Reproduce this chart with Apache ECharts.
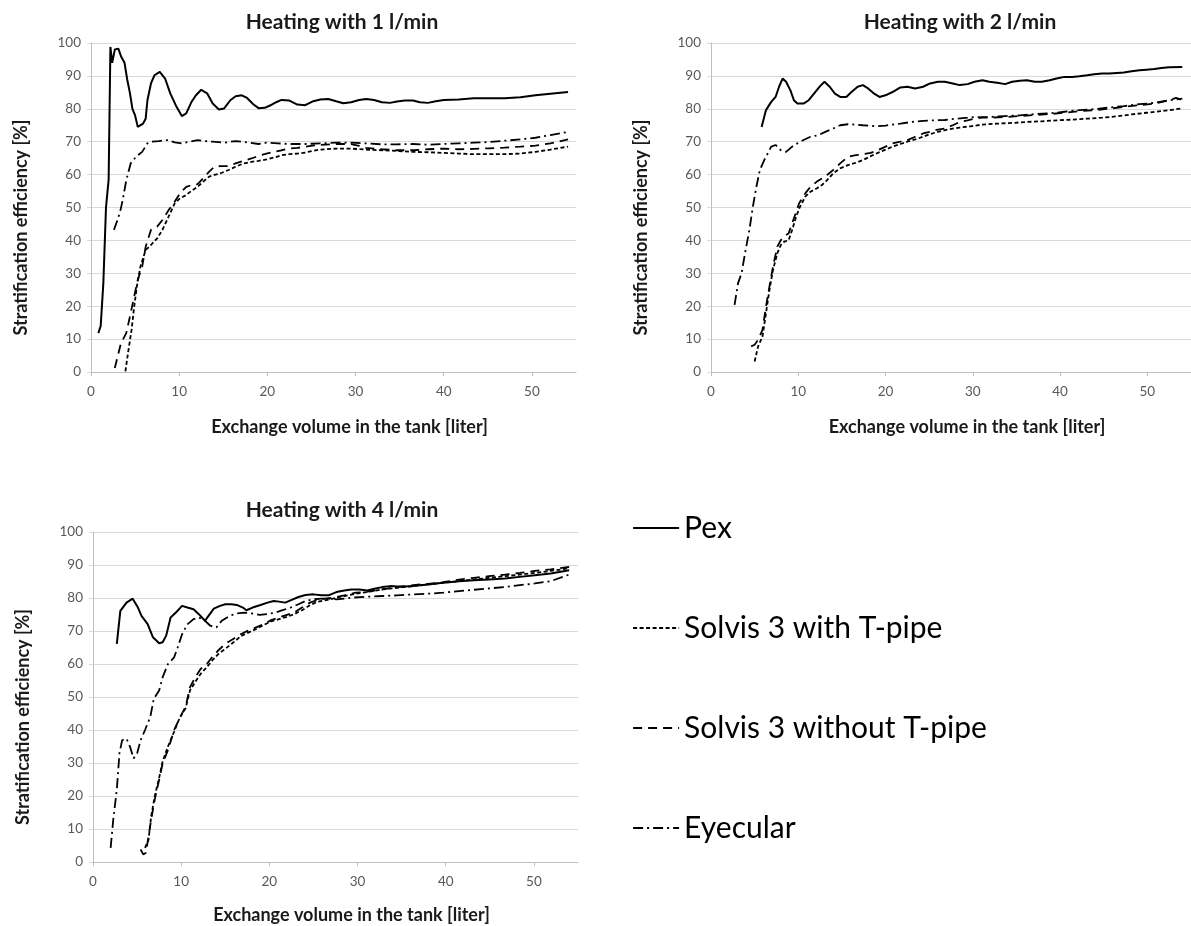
<!DOCTYPE html>
<html>
<head>
<meta charset="utf-8">
<script src="https://cdn.jsdelivr.net/npm/echarts@6/dist/echarts.min.js"></script>
<style>
html,body{margin:0;padding:0;background:#fff;}
#c{width:1191px;height:926px;}
</style>
</head>
<body>
<div id="c"></div>
<script>
// ---------- DATA ----------
const panelTitles = ['Heating with 1 l/min', 'Heating with 2 l/min', 'Heating with 4 l/min'];
const seriesNames = ['Pex', 'Solvis 3 with T-pipe', 'Solvis 3 without T-pipe', 'Eyecular'];
const xTicks = [0, 10, 20, 30, 40, 50];
const yTicks = [0, 10, 20, 30, 40, 50, 60, 70, 80, 90, 100];
const xAxisTitle = 'Exchange volume in the tank [liter]';
const yAxisTitle = 'Stratification efficiency [%]';

// Panel 1: 1 l/min
const pex1 = [[0.83,11.8],[1.1,14],[1.4,27],[1.7,50],[2.0,58.5],[2.2,98.8],[2.4,94],[2.7,98],[3.1,98.3],[3.4,96],[3.8,94],[4.1,89],[4.4,85],[4.7,80],[5.0,78],[5.3,74.5],[5.9,75.5],[6.2,77],[6.4,82.6],[6.8,87.7],[7.2,90.2],[7.8,91.2],[8.4,89.2],[9.0,84.6],[9.7,80.6],[10.3,77.8],[10.8,78.6],[11.4,82.1],[11.9,84.1],[12.5,85.8],[13.2,84.6],[13.8,81.6],[14.5,79.8],[15.1,80.1],[15.8,82.6],[16.4,83.8],[17.1,84.1],[17.7,83.3],[18.4,81.4],[19.0,80.2],[19.7,80.3],[20.3,81],[21.0,82],[21.6,82.7],[22.5,82.5],[23.4,81.3],[24.3,81.1],[25.1,82.2],[26.0,82.8],[26.9,83],[27.8,82.3],[28.6,81.7],[29.5,82],[30.4,82.7],[31.2,83],[32.1,82.7],[33.0,82],[33.9,81.8],[34.7,82.2],[35.6,82.5],[36.5,82.5],[37.3,82],[38.2,81.8],[39.1,82.3],[40,82.7],[41.7,82.8],[43.4,83.2],[45.2,83.2],[46.9,83.2],[48.7,83.5],[50.4,84.1],[52.1,84.6],[54.1,85.1]];
const tee1 = [[3.9,0.2],[4.2,5.8],[4.6,12.8],[4.9,19.9],[5.2,26],[5.6,32],[6.2,37.1],[6.8,38.6],[7.5,40.6],[8.1,43.2],[8.8,47.2],[9.5,51.3],[10.1,52.8],[10.8,53.8],[11.4,55.1],[12.1,56.3],[12.7,57.8],[13.4,59.4],[14.0,59.9],[14.7,60.4],[15.6,61.4],[16.4,62.4],[17.3,63.4],[18.2,63.9],[19.0,64.2],[19.9,64.6],[20.8,65.2],[21.6,65.9],[22.5,66.2],[23.4,66.4],[24.3,66.7],[25.1,67.2],[26.0,67.6],[27.8,67.9],[29.5,67.9],[31.2,67.6],[33,67.4],[34.7,67.2],[36.5,66.9],[38.2,66.8],[40,66.6],[41.7,66.4],[43.4,66.2],[45.2,66.2],[46.9,66.2],[48.7,66.4],[50.4,66.9],[52.1,67.6],[54.1,68.5]];
const noTee1 = [[2.7,1.2],[3.4,8.8],[4.0,11.8],[4.5,17.9],[4.9,23],[5.3,28],[5.8,32],[6.2,38.1],[6.8,43.2],[7.5,44.2],[8.1,46.2],[8.8,49.2],[9.5,51.8],[10.1,54.3],[10.8,56.3],[11.4,56.8],[12.1,57.1],[12.7,58.8],[13.4,60.9],[14.0,62.4],[14.7,62.6],[15.6,62.6],[16.4,63.4],[17.3,64.2],[18.2,64.9],[19.0,65.7],[19.9,66.4],[20.8,66.9],[21.6,67.4],[22.5,67.9],[23.4,68.1],[24.3,68.5],[25.1,68.8],[26.0,69],[27.8,69.3],[29.5,69.3],[30.4,68.7],[31.2,68.1],[33,67.7],[34.7,67.4],[36.5,67.4],[38.2,67.7],[40,67.9],[41.7,67.7],[43.4,67.8],[45.2,68],[46.9,68.2],[48.7,68.5],[50.4,68.8],[52.1,69.5],[54.1,70.7]];
const eye1 = [[2.6,43.2],[3.0,46.2],[3.3,48.7],[3.6,52.3],[4.0,58.3],[4.5,63.4],[5.1,65.4],[5.8,66.9],[6.4,69.5],[6.8,70],[7.7,70.2],[8.6,70.5],[9.5,69.8],[10.3,69.5],[11.2,70],[12.1,70.5],[12.9,70.2],[13.8,70],[15.1,69.7],[16.4,70.2],[17.7,69.8],[19.0,69.3],[19.9,69.7],[21.2,69.5],[22.5,69.3],[24.3,69.3],[26.0,69.5],[27.8,69.7],[29.5,69.7],[31.2,69.5],[33.0,69.2],[34.7,69.2],[36.5,69.3],[38.2,69.1],[40,69.3],[41.7,69.5],[43.4,69.7],[45.2,69.9],[46.9,70.3],[48.7,70.7],[50.4,71.2],[52.1,72],[54.1,73]];

// Panel 2: 2 l/min
const pex2 = [[5.8,74.5],[6.3,79.6],[6.9,82.1],[7.4,83.6],[7.8,86.7],[8.2,89.2],[8.6,88.2],[9.1,85.6],[9.5,82.6],[9.9,81.6],[10.6,81.6],[11.2,82.6],[11.8,84.6],[12.5,86.9],[13.0,88.2],[13.6,86.7],[14.2,84.6],[14.8,83.6],[15.5,83.6],[16.1,85.1],[16.8,86.7],[17.4,87.2],[18.0,86.2],[18.7,84.6],[19.3,83.6],[20.0,84.1],[20.8,85.1],[21.7,86.5],[22.5,86.7],[23.4,86.2],[24.3,86.7],[25.1,87.7],[26.0,88.2],[26.8,88.2],[27.7,87.7],[28.5,87.2],[29.4,87.5],[30.2,88.2],[31.1,88.7],[31.9,88.2],[32.8,87.9],[33.7,87.5],[34.5,88.2],[35.4,88.5],[36.2,88.7],[37.1,88.2],[37.9,88.2],[38.8,88.7],[39.6,89.2],[40.5,89.7],[41.4,89.7],[42.2,89.9],[43.1,90.2],[43.9,90.5],[44.8,90.7],[45.6,90.7],[46.5,90.9],[47.3,91],[48.2,91.4],[49.1,91.7],[49.9,91.9],[50.8,92.1],[51.6,92.4],[52.5,92.6],[54,92.7]];
const tee2 = [[5.0,3.2],[5.4,7.8],[5.9,10.8],[6.3,17.9],[6.7,25],[7.1,31],[7.6,36.1],[8.0,38.6],[8.4,39.6],[8.9,40.1],[9.3,43.2],[9.7,46.7],[10.1,49.7],[10.8,53.3],[11.4,54.8],[12.1,55.8],[12.7,56.8],[13.3,58.3],[14.0,60.4],[14.8,61.9],[15.7,62.9],[16.6,63.6],[17.4,64.4],[18.3,65.6],[19.1,66.6],[20,67.6],[20.8,68.5],[21.7,69.3],[22.5,70],[23.4,70.7],[24.3,71.5],[25.1,72.3],[26,73],[26.8,73.5],[27.7,74],[28.5,74.3],[29.8,74.7],[31.1,75.2],[32.8,75.5],[34.5,75.7],[36.2,76],[37.9,76.2],[39.6,76.5],[41.4,76.7],[43.1,77],[44.8,77.3],[46.5,77.7],[48.2,78.3],[49.9,78.8],[51.6,79.3],[54,80.1]];
const noTee2 = [[4.6,7.8],[5.0,8.3],[5.4,9.8],[5.9,12.8],[6.3,19.9],[6.7,26],[7.1,32],[7.6,38.1],[8.0,40.1],[8.4,41.2],[8.9,42.2],[9.3,45.2],[9.7,48.2],[10.1,51.3],[10.8,54.3],[11.4,56.3],[12.1,57.8],[12.7,58.8],[13.3,59.9],[14.0,61.4],[14.8,63.4],[15.7,65.4],[16.6,65.9],[17.4,66.2],[18.3,66.6],[19.1,67.4],[20,68.5],[20.8,69.5],[21.7,70],[22.5,70.5],[23.4,71.5],[24.3,72.5],[25.1,73],[26,73.7],[26.8,74],[27.7,75],[28.5,76],[29.4,76.5],[30.2,77],[31.1,77.3],[31.9,77.3],[33.7,77.5],[35.4,77.8],[37.1,78.1],[38.8,78.4],[40.5,78.8],[42.2,79.3],[43.9,79.6],[45.6,80],[47.3,80.6],[49.1,81.1],[50.8,81.6],[52.5,82.6],[53.3,83.3],[54,82.6]];
const eye2 = [[2.7,20.4],[3.1,27],[3.5,30],[3.9,36.1],[4.4,43.2],[4.8,50.3],[5.2,56.3],[5.6,61.4],[6.1,64.4],[6.5,66.4],[6.9,68.5],[7.4,69],[8.0,67.4],[8.6,66.9],[9.3,68.5],[9.9,69.5],[10.6,70.5],[11.4,71.5],[12.3,72],[13.1,73],[14.0,74],[14.8,75],[15.7,75.3],[16.6,75.2],[17.4,75],[18.3,74.8],[19.1,74.7],[20,74.9],[20.8,75.2],[21.7,75.5],[23,76],[24.3,76.3],[25.5,76.5],[26.8,76.6],[28.1,77],[29.4,77.3],[30.2,77.5],[31.9,77.5],[33.7,77.8],[35.4,78],[37.1,78.4],[38.8,78.6],[40.5,79.1],[42.2,79.6],[43.9,79.9],[45.6,80.4],[47.3,80.8],[49.1,81.4],[50.8,81.8],[52.5,82.6],[54,83.1]];

// Panel 3: 4 l/min
const pex3 = [[2.7,66.1],[3.1,76.1],[3.8,78.6],[4.5,79.8],[5.1,77.1],[5.5,74.6],[6.2,72.1],[6.8,68.1],[7.5,66.3],[7.9,66.6],[8.3,68.6],[8.8,74.1],[9.4,75.6],[10.1,77.6],[10.7,77.1],[11.4,76.6],[12.0,75.1],[12.7,73.1],[13.1,74.6],[13.7,76.8],[14.4,77.6],[15.0,78.1],[15.7,78.1],[16.3,77.9],[17,77.1],[17.4,76.3],[18.1,77.1],[18.9,77.8],[19.8,78.6],[20.5,79.1],[21.1,78.9],[21.8,78.6],[22.4,79.3],[23.3,80.3],[24.1,80.9],[25,81.1],[25.9,80.8],[26.7,80.8],[27.6,81.8],[28.5,82.3],[29.3,82.6],[30.2,82.6],[31.1,82.3],[31.9,82.8],[32.8,83.3],[33.7,83.6],[34.5,83.5],[35.4,83.5],[36.3,83.6],[37.1,83.9],[38,84.1],[38.9,84.4],[39.7,84.6],[41.5,85.1],[43.2,85.4],[44.9,85.6],[46.7,85.9],[48.4,86.4],[50.1,86.9],[51.9,87.4],[54,88.4]];
const tee3 = [[5.9,4.3],[6.3,6.8],[6.6,13.9],[7.0,19.9],[7.5,25.5],[7.9,30.5],[8.5,35],[9.2,39.5],[9.8,43.5],[10.5,46.6],[11.0,52],[11.6,54.6],[12.2,57],[12.9,59],[13.5,61],[14.2,63],[15,64.6],[15.9,66.5],[16.8,68.5],[17.6,69.5],[18.5,70.6],[19.4,71.9],[20.2,72.9],[21.1,73.6],[22,74.3],[22.8,75.1],[23.7,76.3],[24.6,77.8],[25.4,78.8],[26.3,79.3],[27.2,79.8],[28.5,80.6],[29.8,81.3],[31.1,81.8],[32.8,82.6],[34.5,83.1],[36.3,83.6],[38,84.1],[39.7,84.6],[41.5,85.1],[43.2,85.6],[44.9,86.1],[46.7,86.6],[48.4,87.1],[50.1,87.6],[51.9,88.2],[54,89]];
const noTee3 = [[5.4,3.8],[5.7,2.3],[6.0,2.8],[6.3,7.8],[6.6,12.9],[7.0,18.9],[7.5,24.9],[7.9,29.9],[8.5,33.9],[9.2,40],[9.8,43.5],[10.5,47],[11.0,53],[11.6,56],[12.2,58.5],[12.9,60],[13.5,62],[14.2,64.1],[15,66.1],[15.9,67.6],[16.8,69.1],[17.6,70.1],[18.5,71.1],[19.4,72.1],[20.2,73.3],[21.1,74.1],[22,74.9],[22.8,75.6],[23.7,77.1],[24.6,78.6],[25.4,79.3],[26.3,79.8],[27.2,80.1],[28.5,80.8],[29.8,81.6],[31.1,81.9],[32.8,82.6],[34.5,83.3],[36.3,83.9],[38,84.3],[39.7,84.8],[41.5,85.6],[43.2,86.1],[44.9,86.6],[46.7,87.1],[48.4,87.6],[50.1,88.2],[51.9,88.7],[54,89.4]];
const eye3 = [[2.0,4.3],[2.3,12.9],[2.7,21.9],[3.0,32.9],[3.3,36.9],[3.8,37.4],[4.2,34.9],[4.6,31.4],[5.0,32.9],[5.4,36.9],[5.9,40],[6.5,44],[6.9,49.5],[7.5,52],[7.9,56],[8.5,60],[9.2,62],[9.6,65],[10.1,69],[10.7,72],[11.4,73.6],[12,74.1],[12.7,73.1],[13.3,71.6],[14,71.1],[14.6,73.1],[15.5,74.6],[16.3,75.3],[17.2,75.6],[18.1,75.3],[18.9,74.9],[19.8,75.1],[20.7,75.6],[21.5,76.3],[22.4,77.1],[23.3,78.1],[24.1,79.1],[25,79.6],[25.9,79.8],[26.7,79.8],[27.6,79.6],[28.5,79.8],[29.3,80.1],[31.1,80.4],[32.8,80.6],[34.5,80.8],[36.3,81.1],[38,81.3],[39.7,81.6],[41.5,82.1],[43.2,82.5],[44.9,82.9],[46.7,83.3],[48.4,83.9],[50.1,84.4],[51.9,85.1],[54,87.1]];

// ---------- CHART ----------
const panelData = [
  [pex1, tee1, noTee1, eye1],
  [pex2, tee2, noTee2, eye2],
  [pex3, tee3, noTee3, eye3]
];
const grids = [
  {left: 91, top: 43, width: 485, height: 329},
  {left: 711, top: 43, width: 483, height: 329},
  {left: 93, top: 532, width: 485, height: 330}
];
const titlePos = [[342, 22], [960, 22], [342, 510]];
const xNameGap = [46, 46, 44];

const lineStyles = [
  {width: 2, type: 'solid'},
  {width: 1.8, type: [4, 2.5]},
  {width: 1.8, type: [9, 6]},
  {width: 1.8, type: [10, 4, 2, 4]}
];

const FONT = 'Lato, "Open Sans", sans-serif';

const xAxes = grids.map((g, i) => ({
  type: 'value', gridIndex: i, min: 0, max: 55,
  name: xAxisTitle, nameLocation: 'middle', nameGap: xNameGap[i],
  nameTextStyle: {fontFamily: FONT, fontWeight: 'bold', fontSize: 18, color: '#1a1a1a', padding: [0, 0, 0, 32]},
  axisLine: {show: true, lineStyle: {color: '#bfbfbf', width: 1}},
  axisTick: {show: true, length: 4, lineStyle: {color: '#bfbfbf'}, customValues: xTicks},
  axisLabel: {fontFamily: FONT, fontSize: 13.5, color: '#595959', margin: 13, customValues: xTicks},
  splitLine: {show: false}
}));
const yAxes = grids.map((g, i) => ({
  type: 'value', gridIndex: i, min: 0, max: 100, interval: 10,
  name: yAxisTitle, nameLocation: 'middle', nameGap: 61, nameRotate: 90,
  nameTextStyle: {fontFamily: FONT, fontWeight: 'bold', fontSize: 18, color: '#1a1a1a', padding: [0, 40, 0, 0]},
  axisLine: {show: true, lineStyle: {color: '#bfbfbf', width: 1}},
  axisTick: {show: true, length: 4, lineStyle: {color: '#d9d9d9'}},
  axisLabel: {fontFamily: FONT, fontSize: 13.5, color: '#595959', margin: 10},
  splitLine: {show: true, lineStyle: {color: '#d9d9d9', width: 1}}
}));

const series = [];
panelData.forEach((arrs, p) => {
  arrs.forEach((arr, s) => {
    series.push({
      type: 'line', name: seriesNames[s], xAxisIndex: p, yAxisIndex: p,
      data: arr, symbol: 'none', smooth: false, animation: false,
      lineStyle: Object.assign({color: '#000'}, lineStyles[s]),
      itemStyle: {color: '#000'}
    });
  });
});

const option = {
  backgroundColor: '#fff',
  animation: false,
  grid: grids.map(g => Object.assign({containLabel: false}, g)),
  xAxis: xAxes,
  yAxis: yAxes,
  legend: {
    orient: 'vertical', left: 627, top: 505,
    itemWidth: 46, itemHeight: 14, itemGap: 64,
    data: seriesNames,
    itemStyle: {opacity: 0, borderWidth: 0},
    lineStyle: {width: 2.2},
    textStyle: {fontFamily: FONT, fontSize: 30, color: '#000', lineHeight: 36},
    selectedMode: false
  },
  graphic: panelTitles.map((t, i) => ({
    type: 'text', x: titlePos[i][0], y: titlePos[i][1],
    style: {text: t, fontFamily: FONT, fontWeight: 'bold', fontSize: 21, fill: '#1a1a1a',
            textAlign: 'center', textVerticalAlign: 'middle'}
  })),
  series: series
};

const chart = echarts.init(document.getElementById('c'), null, {renderer: 'canvas'});
chart.setOption(option);
</script>
</body>
</html>
